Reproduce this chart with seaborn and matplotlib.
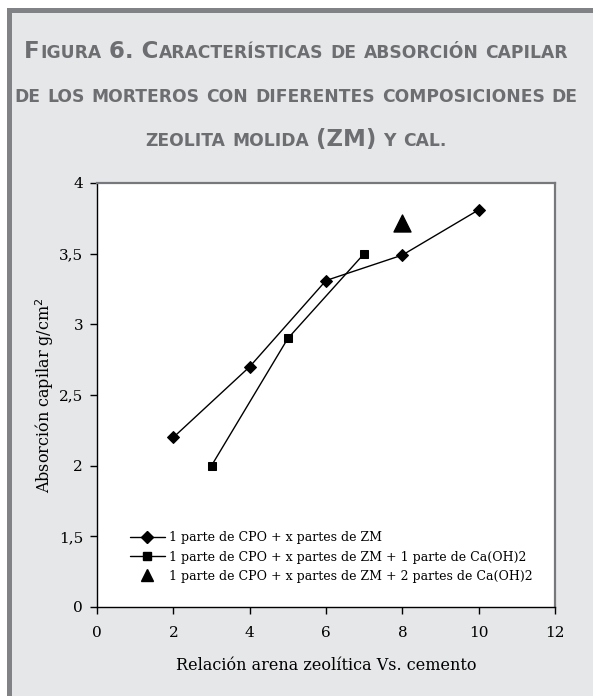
import matplotlib
matplotlib.use("Agg")
import matplotlib.pyplot as plt
import seaborn as sns
import pandas as pd
from matplotlib.lines import Line2D
from matplotlib.patches import Rectangle

# ---- data ----
x_zm = [2, 4, 6, 8, 10]
y_zm = [2.20, 2.70, 3.31, 3.49, 3.81]
x_ca1 = [3, 5, 7]
y_ca1 = [2.00, 2.90, 3.50]
x_ca2 = [8]
y_ca2 = [3.72]
labels = ["1 parte de CPO + x partes de ZM",
          "1 parte de CPO + x partes de ZM + 1 parte de Ca(OH)2",
          "1 parte de CPO + x partes de ZM + 2 partes de Ca(OH)2"]
xticks = [0, 2, 4, 6, 8, 10, 12]
yticks = [1, 1.5, 2, 2.5, 3, 3.5, 4]
ytick_labels = ["0", "1,5", "2", "2,5", "3", "3,5", "4"]
xlabel = "Relación arena zeolítica Vs. cemento"
ylabel = "Absorción capilar g/cm$^2$"
title_lines = [
    [[("F", 1), ("IGURA", 0)], [("6. C", 1), ("ARACTERÍSTICAS", 0)], [("DE", 0)],
     [("ABSORCIÓN", 0)], [("CAPILAR", 0)]],
    [[("DE", 0)], [("LOS", 0)], [("MORTEROS", 0)], [("CON", 0)], [("DIFERENTES", 0)],
     [("COMPOSICIONES", 0)], [("DE", 0)]],
    [[("ZEOLITA", 0)], [("MOLIDA", 0)], [("(ZM)", 1)], [("Y", 0)], [("CAL.", 0)]],
]

sns.set_theme(style="white")
plt.rcParams["font.family"] = ["DejaVu Serif"]
plt.rcParams["text.color"] = "black"
plt.rcParams["axes.labelcolor"] = "black"

W, H, DPI = 593, 696, 100
fig = plt.figure(figsize=(W / DPI, H / DPI), dpi=DPI, facecolor="white")

# panel background with gray border on top/left
fig.patches.append(Rectangle((7 / W, 0), 1, (H - 8) / H, transform=fig.transFigure,
                             facecolor="#808285", edgecolor="none", zorder=-10))
fig.patches.append(Rectangle((12 / W, 0), 1, (H - 13) / H, transform=fig.transFigure,
                             facecolor="#e6e7e8", edgecolor="none", zorder=-9))

ax = fig.add_axes([97 / W, (H - 607) / H, (555 - 97) / W, (607 - 183) / H])
ax.set_facecolor("white")

sns.lineplot(x=x_zm, y=y_zm, ax=ax, color="black", linewidth=1.0, marker="D",
             markersize=6.5, markeredgecolor="black", sort=False, legend=False)
sns.lineplot(x=x_ca1, y=y_ca1, ax=ax, color="black", linewidth=1.0, marker="s",
             markersize=6.0, markeredgecolor="black", sort=False, legend=False)
sns.scatterplot(x=x_ca2, y=y_ca2, ax=ax, color="black", marker="^", s=150,
                edgecolor="black", legend=False)

ax.set_xlim(0, 12)
ax.set_ylim(1, 4)
ax.set_xticks(xticks)
ax.set_xticklabels([str(v) for v in xticks])
ax.set_yticks(yticks)
ax.set_yticklabels(ytick_labels)
ax.tick_params(axis="both", direction="out", length=5, width=1, colors="black",
               labelsize=11, pad=5, bottom=True, left=True)
ax.tick_params(axis="x", pad=9)
for s in ["bottom", "left"]:
    ax.spines[s].set_color("black")
    ax.spines[s].set_linewidth(1.0)
for s in ["top", "right"]:
    ax.spines[s].set_color("#77787b")
    ax.spines[s].set_linewidth(1.6)

ax.set_xlabel(xlabel, fontsize=11.5, labelpad=12, color="black")
ax.set_ylabel(ylabel, fontsize=11.5, labelpad=2, color="black")

handles = [
    Line2D([], [], color="black", lw=1.0, marker="D", markersize=6.5),
    Line2D([], [], color="black", lw=1.0, marker="s", markersize=6.0),
    Line2D([], [], color="none", lw=0, marker="^", markersize=8,
           markerfacecolor="black", markeredgecolor="black"),
]
leg = ax.legend(handles, labels, loc="lower left", bbox_to_anchor=(0.072, 0.057),
                frameon=False, fontsize=9.0, handlelength=2.8, handletextpad=0.3,
                labelspacing=0.5, borderpad=0, borderaxespad=0)
for txt in leg.get_texts():
    txt.set_color("black")

# ---- title in emulated small caps ----
TITLE_COLOR = "#6d6e71"
SMALL, BIG = 12.3, 16.5
baselines = [58, 102, 146]
fig.canvas.draw()
renderer = fig.canvas.get_renderer()

def measure(s, size):
    t = fig.text(0, 0, s, fontsize=size, fontweight="bold", family="DejaVu Sans")
    w = t.get_window_extent(renderer).width
    t.remove()
    return w

space_w = measure("X X", SMALL) - measure("XX", SMALL)
for words, yb in zip(title_lines, baselines):
    items = []
    total = 0.0
    for wi, word in enumerate(words):
        if wi > 0:
            total += space_w
        for s, big in word:
            size = BIG if big else SMALL
            t = fig.text(0, 1 - yb / H, s, fontsize=size, fontweight="bold",
                         family="DejaVu Sans", color=TITLE_COLOR,
                         ha="left", va="baseline")
            w = t.get_window_extent(renderer).width
            items.append((t, total))
            total += w + 1.0
    x0 = W / 2 - total / 2
    for t, off in items:
        t.set_x((x0 + off) / W)

fig.savefig("out.png", dpi=DPI, facecolor=fig.get_facecolor())
